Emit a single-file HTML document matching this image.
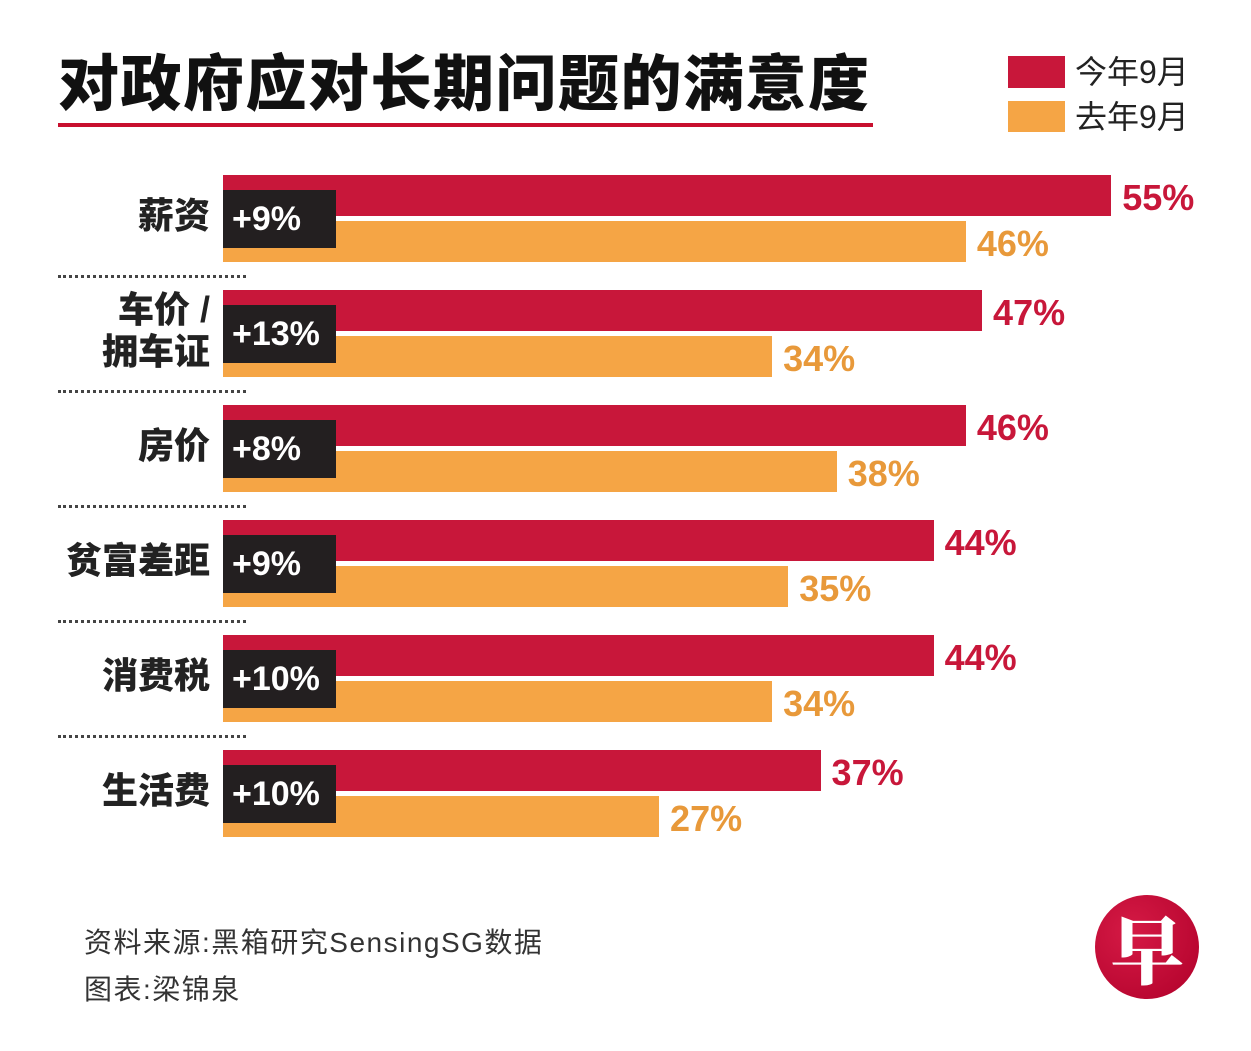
<!DOCTYPE html>
<html><head><meta charset="utf-8"><style>
body{margin:0;width:1251px;height:1051px;background:#fff;position:relative;overflow:hidden;font-family:"Liberation Sans","Noto Sans CJK SC",sans-serif}
.a{position:absolute}
</style></head><body>
<div class="a" style="left:58px;top:48px;font-size:61px;font-weight:900;color:#111;letter-spacing:1.5px;white-space:nowrap;line-height:72px">对政府应对长期问题的满意度</div>
<div class="a" style="left:58px;top:123px;width:815px;height:4px;background:#c8102e"></div>
<div class="a" style="left:1008px;top:56px;width:57px;height:32px;background:#c8173a"></div>
<div class="a" style="left:1075px;top:50px;font-size:32px;color:#222;line-height:44px">今年9月</div>
<div class="a" style="left:1008px;top:101px;width:57px;height:31px;background:#f5a545"></div>
<div class="a" style="left:1075px;top:95px;font-size:32px;color:#222;line-height:44px">去年9月</div>
<div id="chart"></div>
<div class="a" style="left:84px;top:924px;font-size:28px;letter-spacing:1.5px;color:#333;line-height:38px">资料来源:黑箱研究SensingSG数据</div>
<div class="a" style="left:84px;top:971px;font-size:28px;letter-spacing:1.5px;color:#333;line-height:38px">图表:梁锦泉</div>
<div class="a" style="left:1095px;top:895px;width:104px;height:104px;border-radius:50%;background:radial-gradient(circle at 35% 35%,#d51a45,#b0002a);color:#fff;font-size:74px;font-weight:900;text-align:center;line-height:104px;font-family:'Noto Serif CJK SC',serif">早</div>
<script>
const categories=["薪资","车价 /\n拥车证","房价","贫富差距","消费税","生活费"];
const thisYear=[55,47,46,44,44,37];
const lastYear=[46,34,38,35,34,27];
const changes=["+9%","+13%","+8%","+9%","+10%","+10%"];
const x0=223,scale=16.15,top0=175,step=115;
const xs=v=>v*scale;
const c=document.getElementById('chart');
function mk(css,txt){const d=document.createElement('div');d.className='a';d.style.cssText=css;if(txt!==undefined)d.textContent=txt;c.appendChild(d);return d;}
categories.forEach((cat,i)=>{
 const y=top0+i*step;
 let b=mk(`left:${x0}px;top:${y}px;width:${xs(thisYear[i])}px;height:41px;background:#c8173a`);
 
 
 b=mk(`left:${x0}px;top:${y+46}px;width:${xs(lastYear[i])}px;height:41px;background:#f5a545`);
 
 
 let t=mk(`left:${x0+xs(thisYear[i])+11}px;top:${y+1}px;font-size:36px;font-weight:bold;color:#c8173a;line-height:44px`,thisYear[i]+'%');
 
 
 t=mk(`left:${x0+xs(lastYear[i])+11}px;top:${y+47}px;font-size:36px;font-weight:bold;color:#e8993a;line-height:44px`,lastYear[i]+'%');
 
 
 t=mk(`left:${x0}px;top:${y+15}px;width:113px;height:58px;background:#231f20;color:#fff;font-size:34px;font-weight:bold;line-height:58px;padding-left:9px;box-sizing:border-box`,changes[i]);
 
 
 const lines=cat.split('\n');
 t=mk(`left:10px;width:200px;top:${y+41-lines.length*21}px;font-size:36px;font-weight:900;color:#222;text-align:right;line-height:42px;white-space:pre`,cat);
 
 
 if(i<categories.length-1){
  t=mk(`left:58px;top:${y+100}px;width:188px;height:0;border-top:3px dotted #444`);
  
  
 }
});
</script>
</body></html>
